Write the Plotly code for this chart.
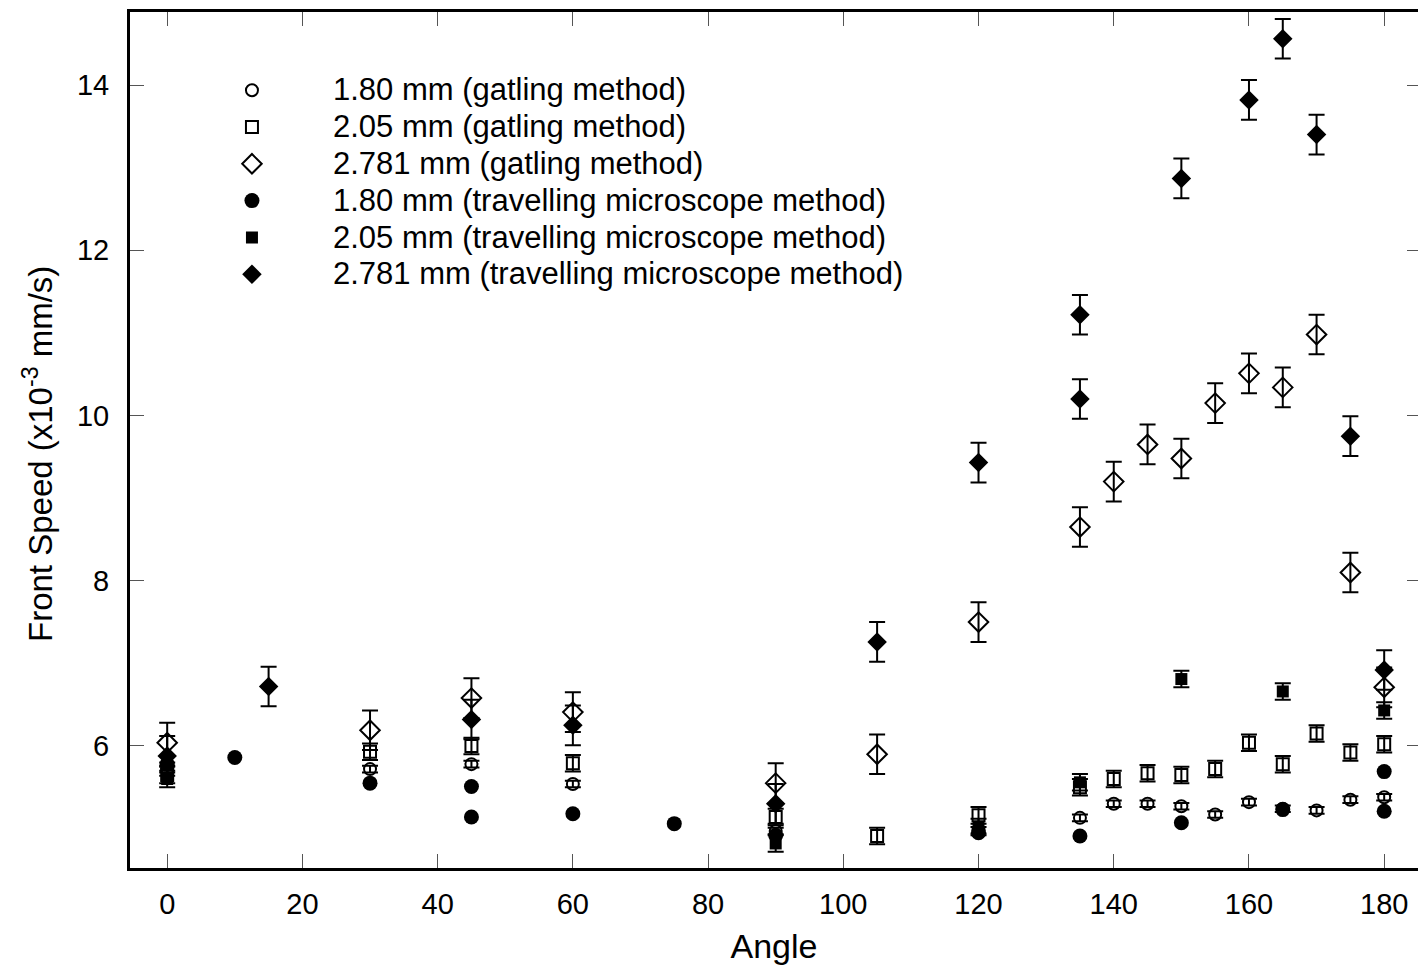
import plotly.graph_objects as go

# ---- data ----
gat180_x = [0, 30, 45, 60, 90, 120, 135, 140, 145, 150, 155, 160, 165, 170, 175, 180]
gat180_y = [5.72, 5.72, 5.78, 5.54, 4.97, 4.98, 5.13, 5.30, 5.30, 5.27, 5.17, 5.32, 5.24, 5.22, 5.35, 5.38]
gat180_e = 0.04

gat205_x = [0, 30, 45, 60, 90, 105, 120, 135, 140, 145, 150, 155, 160, 165, 170, 175, 180]
gat205_y = [5.65, 5.93, 6.00, 5.79, 5.14, 4.91, 5.16, 5.50, 5.60, 5.67, 5.65, 5.72, 6.04, 5.78, 6.15, 5.92, 6.02]
gat205_e = 0.1

gat2781_x = [0, 30, 45, 60, 90, 105, 120, 135, 140, 145, 150, 155, 160, 165, 170, 175, 180]
gat2781_y = [6.04, 6.19, 6.58, 6.41, 5.55, 5.90, 7.50, 8.65, 9.20, 9.65, 9.48, 10.15, 10.51, 10.34, 10.98, 8.10, 6.71]
gat2781_e = 0.24

tm180_x = [0, 10, 30, 45, 45, 60, 75, 90, 120, 135, 150, 165, 180, 180]
tm180_y = [5.78, 5.86, 5.55, 5.51, 5.14, 5.18, 5.06, 4.92, 4.95, 4.91, 5.07, 5.23, 5.69, 5.21]

tm205_x = [0, 90, 120, 135, 150, 165, 180]
tm205_y = [5.60, 4.82, 5.02, 5.56, 6.81, 6.66, 6.43]
tm205_e = 0.1

tm2781_x = [0, 15, 45, 60, 90, 105, 120, 135, 135, 150, 160, 165, 170, 175, 180]
tm2781_y = [5.88, 6.72, 6.32, 6.25, 5.30, 7.26, 9.43, 11.22, 10.20, 12.87, 13.82, 14.56, 13.40, 9.75, 6.92]
tm2781_e = 0.24

x_ticks = [0, 20, 40, 60, 80, 100, 120, 140, 160, 180]
y_ticks = [6, 8, 10, 12, 14]

FONT = "Liberation Sans, Arial, Helvetica, sans-serif"
BLACK = "black"


def err(v):
    if v is None:
        return dict(visible=False)
    return dict(type="constant", value=v, color=BLACK, thickness=2, width=8)


series = [
    ("1.80 mm (gatling method)", gat180_x, gat180_y, gat180_e, "circle-open", 12),
    ("2.05 mm (gatling method)", gat205_x, gat205_y, gat205_e, "square-open", 12),
    ("2.781 mm (gatling method)", gat2781_x, gat2781_y, gat2781_e, "diamond-open", 15),
    ("1.80 mm (travelling microscope method)", tm180_x, tm180_y, None, "circle", 15),
    ("2.05 mm (travelling microscope method)", tm205_x, tm205_y, tm205_e, "square", 12),
    ("2.781 mm (travelling microscope method)", tm2781_x, tm2781_y, tm2781_e, "diamond", 15),
]

fig = go.Figure()
for name, xs, ys, e, sym, size in series:
    fig.add_trace(go.Scatter(
        x=xs, y=ys, mode="markers",
        name='<span style="font-size:31px">' + name + "</span>",
        marker=dict(symbol=sym, size=size, color=BLACK,
                    line=dict(color=BLACK, width=2 if "open" in sym else 0)),
        error_y=err(e),
    ))

YR = [4.523, 14.884]
XR = [-5.5, 185.0]

fig.update_layout(
    width=1418, height=972,
    margin=dict(l=130, r=0, t=12, b=104),
    paper_bgcolor="white", plot_bgcolor="white",
    font=dict(family=FONT, size=29, color=BLACK),
    showlegend=True,
    legend=dict(
        x=0.0318, y=0.936, xanchor="left", yanchor="top",
        bgcolor="rgba(0,0,0,0)", borderwidth=0,
        font=dict(family=FONT, size=26, color=BLACK),
        itemsizing="trace", itemwidth=152,
        tracegroupgap=0,
    ),
    xaxis=dict(
        range=XR, tickvals=x_ticks, ticks="inside", ticklen=14, tickwidth=1,
        tickcolor="#555", showline=True, linewidth=3, linecolor=BLACK,
        mirror="ticks", showgrid=False, zeroline=False,
        tickfont=dict(family=FONT, size=29),
        ticklabelstandoff=8,
        title=dict(text="Angle", font=dict(family=FONT, size=34), standoff=16),
    ),
    yaxis=dict(
        range=YR, tickvals=y_ticks, ticks="inside", ticklen=14, tickwidth=1,
        tickcolor="#555", showline=True, linewidth=3, linecolor=BLACK,
        mirror=False, showgrid=False, zeroline=False,
        tickfont=dict(family=FONT, size=29),
        ticklabelstandoff=12,
    ),
    yaxis2=dict(
        range=YR, tickvals=y_ticks, overlaying="y", side="right",
        ticks="inside", ticklen=11, tickwidth=1, tickcolor="#555",
        showticklabels=False, showline=False, showgrid=False, zeroline=False,
    ),
    annotations=[dict(
        text="Front Speed (x10<sup>-3</sup> mm/s)", textangle=-90,
        xref="paper", yref="paper", x=(38 - 130) / 1288, y=(868 - 454) / 856,
        xanchor="center", yanchor="middle", showarrow=False,
        font=dict(family=FONT, size=33, color=BLACK),
    )],
)

# invisible helper so the right-hand tick axis is rendered
fig.add_trace(go.Scatter(x=[XR[0]], y=[YR[0]], yaxis="y2", mode="markers",
                         marker=dict(opacity=0), showlegend=False, hoverinfo="skip"))

fig.write_html("out.html")
